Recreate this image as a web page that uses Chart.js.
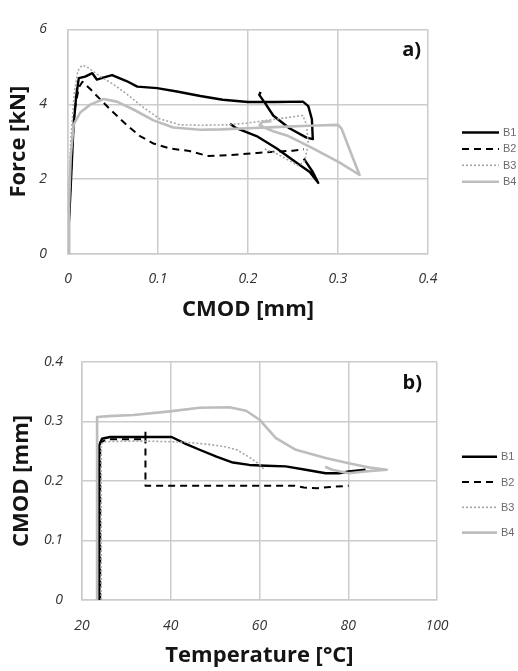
<!DOCTYPE html>
<html><head><meta charset="utf-8">
<script src="https://cdn.jsdelivr.net/npm/chart.js@4/dist/chart.umd.min.js"></script>
<style>
html,body{margin:0;padding:0;background:#fff;width:518px;height:671px;overflow:hidden}
canvas{position:absolute;left:0}
#c1{top:0}
#c2{top:330px}
</style></head><body>
<canvas id="c1" width="518" height="330"></canvas>
<canvas id="c2" width="518" height="341"></canvas>
<script>
// ---------- data ----------
const seriesNames = ['B1', 'B2', 'B3', 'B4'];

// panel a) Force [kN] vs CMOD [mm]  (null = break in the line)
const cmodB1  = [0, 0.001, 0.003, 0.006, 0.009, 0.012, 0.019, 0.027, 0.032, 0.040, 0.049, 0.065, 0.077, 0.099, 0.121, 0.147, 0.172, 0.200, 0.230, 0.261, 0.267, 0.271, 0.272, 0.265, 0.246, 0.228, 0.219, 0.2125, 0.214, null, 0.180, 0.187, 0.2095, 0.232, 0.254, 0.2686, 0.278, 0.272, 0.265, 0.262];
const forceB1 = [0, 0.8, 1.8, 3.36, 4.2, 4.7, 4.74, 4.83, 4.66, 4.72, 4.78, 4.62, 4.47, 4.43, 4.34, 4.22, 4.12, 4.06, 4.06, 4.07, 3.95, 3.6, 3.07, 3.11, 3.36, 3.70, 4.03, 4.25, 4.33, null, 3.48, 3.36, 3.15, 2.82, 2.44, 2.19, 1.90, 2.19, 2.44, 2.55];

const cmodB2  = [0, 0.001, 0.003, 0.007, 0.012, 0.016, 0.025, 0.035, 0.047, 0.065, 0.080, 0.095, 0.113, 0.135, 0.155, 0.170, 0.190, 0.210, 0.230, 0.250, 0.262];
const forceB2 = [0, 0.9, 2.0, 3.8, 4.45, 4.6, 4.4, 4.15, 3.86, 3.45, 3.15, 2.95, 2.82, 2.75, 2.62, 2.63, 2.66, 2.70, 2.73, 2.76, 2.80];

const cmodB3  = [0, 0.001, 0.003, 0.007, 0.011, 0.0155, 0.021, 0.036, 0.0506, 0.065, 0.084, 0.102, 0.1245, 0.147, 0.175, 0.200, 0.230, 0.261, 0.265, 0.267, 0.263, 0.2557, 0.247, 0.2317, 0.217];
const forceB3 = [0, 1.5, 3.0, 4.3, 4.9, 5.04, 5.0, 4.74, 4.53, 4.28, 3.91, 3.61, 3.45, 3.44, 3.45, 3.50, 3.60, 3.70, 3.45, 2.94, 2.48, 2.36, 2.48, 2.68, 2.82];

const cmodB4  = [0, 0.001, 0.003, 0.0062, 0.0136, 0.0247, 0.0395, 0.0543, 0.0727, 0.095, 0.117, 0.147, 0.170, 0.200, 0.230, 0.260, 0.285, 0.300, 0.304, 0.309, 0.316, 0.324, 0.302, 0.270, 0.245, 0.228, 0.218, 0.213, 0.216, 0.226];
const forceB4 = [0, 1.2, 2.6, 3.45, 3.78, 3.99, 4.14, 4.07, 3.86, 3.57, 3.38, 3.32, 3.33, 3.36, 3.39, 3.42, 3.44, 3.45, 3.35, 3.03, 2.6, 2.11, 2.44, 2.85, 3.15, 3.28, 3.38, 3.45, 3.53, 3.55];

// panel b) CMOD [mm] vs Temperature [°C]
const tempB1  = [23.9, 23.9, 24.5, 26.3, 30, 35, 40.2, 43.5, 46.5, 50.3, 54, 57.7, 61.5, 65.9, 70.4, 74.9, 77.9, 80.1, 83.9];
const cmodTB1 = [0, 0.26, 0.271, 0.274, 0.274, 0.274, 0.274, 0.262, 0.2525, 0.241, 0.231, 0.227, 0.2256, 0.2245, 0.219, 0.213, 0.213, 0.216, 0.219];

const tempB2  = [24.1, 24.1, 26, 30, 34.3, 34.3, 34.3, 40, 50, 60, 68, 70, 73, 76, 80.1];
const cmodTB2 = [0, 0.265, 0.27, 0.27, 0.27, 0.283, 0.192, 0.192, 0.192, 0.192, 0.192, 0.189, 0.188, 0.19, 0.192];

const tempB3  = [24.3, 24.3, 25, 30, 35, 40, 43.5, 48, 52, 55, 57.7, 60, 61.1];
const cmodTB3 = [0, 0.262, 0.266, 0.267, 0.267, 0.266, 0.265, 0.262, 0.258, 0.252, 0.24, 0.228, 0.219];

const tempB4  = [23.4, 23.4, 26, 31.6, 39.8, 46.5, 53.2, 57, 60, 63.7, 68.2, 74.9, 80.1, 85.3, 88.7, 83.8, 80.1, 76.4, 74.8];
const cmodTB4 = [0, 0.3075, 0.309, 0.311, 0.317, 0.323, 0.324, 0.318, 0.303, 0.272, 0.2525, 0.2385, 0.23, 0.222, 0.219, 0.216, 0.213, 0.219, 0.224];

// tick labels
const forceTicks = [0, 2, 4, 6];
const cmodTicksA = [0, 0.1, 0.2, 0.3, 0.4];
const tempTicks  = [20, 40, 60, 80, 100];
const cmodTicksB = [0, 0.1, 0.2, 0.3, 0.4];

// ---------- styles ----------
const lineStyles = [
  { color: '#000000', width: 2.4, dash: [] },
  { color: '#000000', width: 2.0, dash: [7, 5] },
  { color: '#a6a6a6', width: 1.6, dash: [2, 2] },
  { color: '#bdbdbd', width: 2.6, dash: [] }
];
const gridColor = '#cccccc';
const tickFont = { family: "'Open Sans', sans-serif", size: 14, style: 'italic' };
const titleFont = { family: "'Open Sans', sans-serif", size: 22, weight: 'bold' };

function pts(xs, ys) {
  return xs.map((x, i) => (x === null || ys[i] === null) ? { x: NaN, y: null } : { x: x, y: ys[i] });
}
function makeDatasets(pairs) {
  return pairs.map((p, i) => ({
    label: seriesNames[i],
    data: pts(p[0], p[1]),
    borderColor: lineStyles[i].color,
    borderWidth: lineStyles[i].width,
    borderDash: lineStyles[i].dash,
    borderJoinStyle: 'round',
    pointRadius: 0,
    pointHoverRadius: 0,
    showLine: true,
    fill: false,
    tension: 0,
    spanGaps: false,
    order: 3 - i
  }));
}

const sideLegend = {
  id: 'sideLegend',
  afterDraw(chart, args, opts) {
    const ctx = chart.ctx;
    ctx.save();
    chart.data.datasets.forEach((ds, i) => {
      const y = opts.y0 + i * opts.gap;
      ctx.beginPath();
      ctx.strokeStyle = ds.borderColor;
      ctx.lineWidth = ds.borderWidth;
      ctx.setLineDash(ds.borderDash);
      ctx.moveTo(opts.x0, y);
      ctx.lineTo(opts.x1, y);
      ctx.stroke();
      ctx.setLineDash([]);
      ctx.fillStyle = '#6b6b6b';
      ctx.font = "11px 'Liberation Sans Narrow', 'Liberation Sans', sans-serif";
      ctx.textBaseline = 'middle';
      ctx.textAlign = 'left';
      ctx.fillText(ds.label, opts.x1 + 4, y + 0.5);
    });
    ctx.restore();
  }
};
const panelTag = {
  id: 'panelTag',
  afterDraw(chart, args, opts) {
    const ctx = chart.ctx, a = chart.chartArea;
    ctx.save();
    ctx.fillStyle = '#111';
    ctx.font = "bold 20px 'Open Sans', sans-serif";
    ctx.textAlign = 'right';
    ctx.textBaseline = 'middle';
    ctx.fillText(opts.text, a.right - opts.dx, a.top + opts.dy);
    ctx.restore();
  }
};

function axis(ticksArr, title, opts) {
  return {
    type: 'linear',
    min: ticksArr[0],
    max: ticksArr[ticksArr.length - 1],
    afterBuildTicks(s) { s.ticks = ticksArr.map(v => ({ value: v })); },
    afterFit: opts.fit,
    grid: { color: gridColor, lineWidth: 1.5, drawTicks: false },
    border: { color: gridColor, width: 1.5 },
    ticks: { font: tickFont, color: '#333333', padding: opts.pad, callback: v => String(v), maxRotation: 0, autoSkip: false },
    title: { display: true, text: title, font: titleFont, color: '#151515', padding: 0 }
  };
}

function makeChart(id, cfg) {
  const W = 518, H = cfg.H;
  return new Chart(document.getElementById(id), {
    type: 'scatter',
    data: { datasets: makeDatasets(cfg.pairs) },
    options: {
      responsive: false,
      animation: false,
      devicePixelRatio: 1,
      layout: { padding: { left: cfg.padL, top: cfg.area.top, right: W - cfg.area.right, bottom: cfg.padB } },
      scales: {
        x: axis(cfg.xTicks, cfg.xTitle, { pad: cfg.xPad, fit: s => { s.height = (H - cfg.padB) - cfg.area.bottom; } }),
        y: axis(cfg.yTicks, cfg.yTitle, { pad: cfg.yPad, fit: s => { s.width = cfg.area.left - cfg.padL; } })
      },
      plugins: {
        legend: { display: false },
        tooltip: { enabled: false },
        sideLegend: cfg.legend,
        panelTag: cfg.tag
      }
    },
    plugins: [sideLegend, panelTag]
  });
}

makeChart('c1', {
  H: 330,
  pairs: [[cmodB1, forceB1], [cmodB2, forceB2], [cmodB3, forceB3], [cmodB4, forceB4]],
  area: { left: 68, top: 17, right: 428, bottom: 254 },
  padL: 6, padB: 7, xPad: 17, yPad: 21,
  xTicks: cmodTicksA, yTicks: forceTicks,
  xTitle: 'CMOD [mm]', yTitle: 'Force [kN]',
  legend: { x0: 462, x1: 499, y0: 132.5, gap: 16.4 },
  tag: { text: 'a)', dx: 7, dy: 21 }
});

makeChart('c2', {
  H: 341,
  pairs: [[tempB1, cmodTB1], [tempB2, cmodTB2], [tempB3, cmodTB3], [tempB4, cmodTB4]],
  area: { left: 82, top: 32, right: 437, bottom: 270 },
  padL: 9, padB: 2, xPad: 18, yPad: 19,
  xTicks: tempTicks, yTicks: cmodTicksB,
  xTitle: 'Temperature [°C]', yTitle: 'CMOD [mm]',
  legend: { x0: 462, x1: 497, y0: 126.7, gap: 25.3 },
  tag: { text: 'b)', dx: 15, dy: 21 }
});
</script>
</body></html>
